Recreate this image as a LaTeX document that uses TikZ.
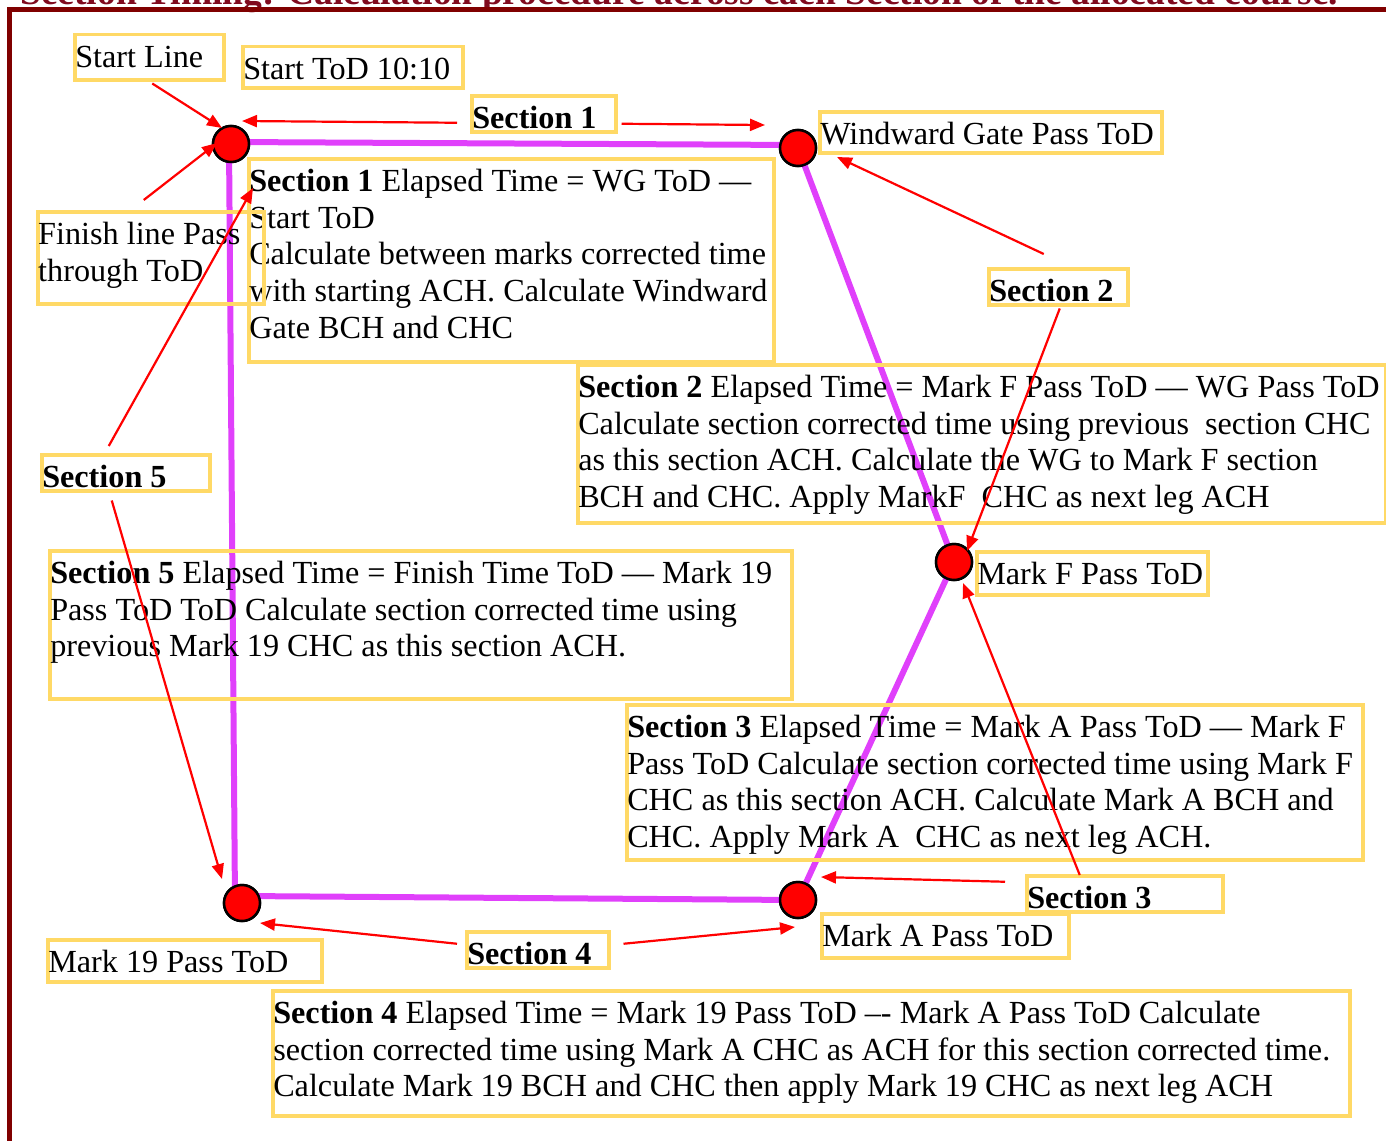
\documentclass[tikz,border=0pt]{standalone}
\usepackage{fontspec}
\setmainfont{Liberation Serif}
\usetikzlibrary{arrows.meta}
\definecolor{framec}{RGB}{128,0,0}
\definecolor{titlec}{RGB}{128,10,30}
\definecolor{boxy}{RGB}{255,217,102}
\definecolor{coursec}{RGB}{224,64,251}
\newcommand{\fnt}{\fontsize{32.2pt}{36.6pt}\selectfont}
\newcommand{\bxt}[3]{\parbox[c][#2pt][t]{#1pt}{\raggedright\leftskip=0.5pt\rule{0pt}{33pt}#3}}
\tikzset{
  ybox/.style={draw=boxy, line width=3.5pt, inner sep=0pt, anchor=north west, font=\fnt},
  markpt/.style={circle, fill=red, draw=black, line width=2.5pt, minimum size=36pt, inner sep=0pt},
  course/.style={draw=coursec, line width=6pt},
  arr/.style={draw=red, line width=2.2pt, -{Triangle[length=15pt,width=12pt]}},
}
\begin{document}
\begin{tikzpicture}[x=1pt,y=-1pt]
\useasboundingbox (0,0) rectangle (1386,1140);
% title (cut off at top) and frame
\node[anchor=base west, inner sep=0pt, font=\fontsize{37.5pt}{40pt}\selectfont\bfseries, text=titlec] (title) at (20,5) {Section Timing: Calculation procedure across each Section of the allocated course.};
\draw[framec, line width=5pt] (1400,9.5) -- (9.5,9.5) -- (9.5,1160);
% marks
\node[markpt] (S) at (231,144) {};
\node[markpt] (WG) at (798,148) {};
\node[markpt] (F) at (954,562) {};
\node[markpt] (A) at (798,900) {};
\node[markpt] (M19) at (242,903) {};
% course
\path[course] ([yshift=2pt]S.center) -- ([yshift=3pt]WG.center);
\path[course] (WG.center) -- (F.center);
\path[course] (F.center) -- (A.center);
\path[course] (A.center) -- ([yshift=7pt]M19.center);
\path[course] ([xshift=-7pt]M19.center) -- ([xshift=-2pt]S.center);
% redraw marks on top
\node[markpt] at (S.center) {};
\node[markpt] at (WG.center) {};
\node[markpt] at (F.center) {};
\node[markpt] at (A.center) {};
\node[markpt] at (M19.center) {};
% labels
\node[ybox] (startline) at (73,33) {\bxt{149}{45}{Start Line}};
\node[ybox] (starttod) at (241,45) {\bxt{220}{41}{Start ToD 10:10}};
\node[ybox] (sec1lbl) at (470,94) {\bxt{144}{36}{\textbf{Section 1}}};
\node[ybox] (wglbl) at (818,110) {\bxt{342}{41}{Windward Gate Pass ToD}};
\node[ybox] (s1box) at (247,157) {\bxt{525}{203}{\textbf{Section 1} Elapsed Time = WG ToD —\\Start ToD\\Calculate between marks corrected time\\with starting ACH. Calculate Windward\\Gate BCH and CHC}};
\node[ybox] (finlbl) at (36,210) {\bxt{226}{92}{Finish line Pass\\through ToD}};
\node[ybox] (sec2lbl) at (987,267) {\bxt{139}{36}{\textbf{Section 2}}};
\node[ybox] (s2box) at (576,363) {\bxt{808}{158}{\textbf{Section 2} Elapsed Time = Mark F Pass ToD — WG Pass ToD\\Calculate section corrected time using previous\ \ section CHC\\as this section ACH. Calculate the WG to Mark F section\\BCH and CHC. Apply MarkF\ \ CHC as next leg ACH}};
\node[ybox] (sec5lbl) at (40,453) {\bxt{168}{36}{\textbf{Section 5}}};
\node[ybox] (mflbl) at (975,550) {\bxt{231}{43}{Mark F Pass ToD}};
\node[ybox] (s5box) at (48,549) {\bxt{742}{148}{\textbf{Section 5} Elapsed Time = Finish Time ToD — Mark 19\\Pass ToD ToD Calculate section corrected time using\\previous Mark 19 CHC as this section ACH.}};
\node[ybox] (s3box) at (625,703) {\bxt{736}{155}{\textbf{Section 3} Elapsed Time = Mark A Pass ToD — Mark F\\Pass ToD Calculate section corrected time using Mark F\\CHC as this section ACH. Calculate Mark A BCH and\\CHC. Apply Mark A\ \ CHC as next leg ACH.}};
\node[ybox] (sec3lbl) at (1025,874) {\bxt{196}{36}{\textbf{Section 3}}};
\node[ybox] (malbl) at (820,912) {\bxt{247}{44}{Mark A Pass ToD}};
\node[ybox] (sec4lbl) at (465,930) {\bxt{142}{36}{\textbf{Section 4}}};
\node[ybox] (m19lbl) at (46,938) {\bxt{274}{42}{Mark 19 Pass ToD}};
\node[ybox] (s4box) at (271,989) {\bxt{1077}{125}{\textbf{Section 4} Elapsed Time = Mark 19 Pass ToD {\textendash}{-} Mark A Pass ToD Calculate\\section corrected time using Mark A CHC as ACH for this section corrected time.\\Calculate Mark 19 BCH and CHC then apply Mark 19 CHC as next leg ACH}};
% arrow tips near the marks
\coordinate (t1) at (222,128);
\coordinate (t2) at (242,121);
\coordinate (t3) at (765,125);
\coordinate (t4) at (217,143);
\coordinate (t5) at (253,188);
\coordinate (t6) at (222,879);
\coordinate (t7) at (837,157);
\coordinate (t8) at (967,551);
\coordinate (t9) at (963,583);
\coordinate (t10) at (821,877);
\coordinate (t11) at (260,923);
\coordinate (t12) at (795,927);
% arrows
\draw[arr] ([xshift=3pt,yshift=-2pt]startline.south) -- (t1);
\draw[arr] ([xshift=-13pt,yshift=-9pt]sec1lbl.west) -- (t2);
\draw[arr] ([xshift=4pt,yshift=-10pt]sec1lbl.east) -- (t3);
\draw[arr] ([xshift=-7pt,yshift=10pt]finlbl.north) -- (t4);
\draw[arr] ([xshift=-17pt,yshift=7pt]sec5lbl.north) -- (t5);
\draw[arr] ([xshift=-14pt,yshift=-8pt]sec5lbl.south) -- (t6);
\draw[arr] ([xshift=-14.5pt,yshift=13pt]sec2lbl.north) -- (t7);
\draw[arr] ([xshift=1.5pt,yshift=-2pt]sec2lbl.south) -- (t8);
\draw[arr] ([xshift=-45pt,yshift=-1pt]sec3lbl.north) -- (t9);
\draw[arr] ([xshift=-20pt,yshift=12pt]sec3lbl.west) -- (t10);
\draw[arr] ([xshift=-8pt,yshift=6pt]sec4lbl.west) -- (t11);
\draw[arr] ([xshift=13pt,yshift=6pt]sec4lbl.east) -- (t12);
\end{tikzpicture}
\end{document}
